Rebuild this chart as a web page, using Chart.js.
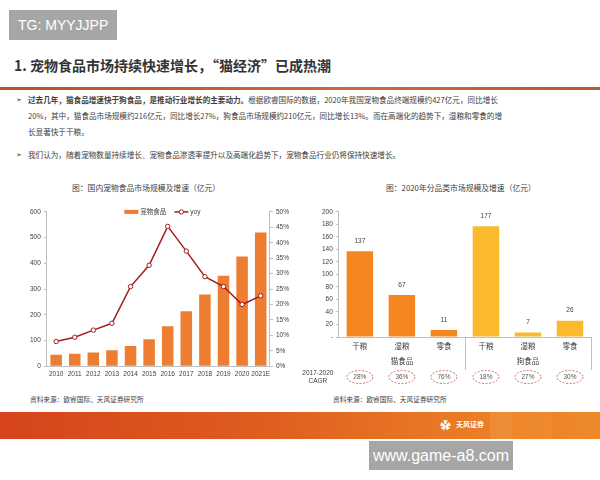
<!DOCTYPE html>
<html>
<head>
<meta charset="utf-8">
<script src="https://cdn.jsdelivr.net/npm/chart.js@4.4.0/dist/chart.umd.min.js"></script>
<style>
body{margin:0;width:600px;height:480px;background:#fff;position:relative;overflow:hidden;font-family:"Noto Sans CJK SC",sans-serif;color:#404040}
.abs{position:absolute}
#tg{left:9px;top:10px;width:108px;height:30px;background:#a6a6a6;color:#fff;font:14px "Liberation Sans",sans-serif;line-height:30px;padding-left:9px;box-sizing:border-box}
#head{left:14px;top:55px;font-size:14px;font-weight:bold;color:#333;white-space:nowrap}
#rule{left:0;top:87px;width:600px;height:3px;background:linear-gradient(90deg,#b4542a,#c86a3c 60%,#b85a30)}
.txt{font-size:7.6px;line-height:16px;color:#404040;white-space:nowrap}
.arrow{position:absolute;left:-12px;font-family:"DejaVu Sans";font-size:7px;color:#333}
.ctitle{font-size:7.8px;color:#404040;white-space:nowrap}
.src{font-size:6.7px;color:#404040;white-space:nowrap}
#foot{left:0;top:412px;width:600px;height:27px;background:linear-gradient(90deg,#d5441d,#de5a1e 40%,#e97a24 75%,#ee8a2a)}
#wm{left:369px;top:441px;width:144px;height:29px;background:#a6a6a6;color:#fff;font:16px "Liberation Sans",sans-serif;line-height:29px;text-align:center}
</style>
</head>
<body>
<div id="tg" class="abs">TG: MYYJJPP</div>
<div id="head" class="abs">1. 宠物食品市场持续快速增长，“猫经济”已成热潮</div>
<div id="rule" class="abs"></div>

<div class="abs txt" style="left:28px;top:92px"><span class="arrow">➢</span><b>过去几年，猫食品增速快于狗食品，是推动行业增长的主要动力。</b>根据欧睿国际的数据，2020年我国宠物食品终端规模约427亿元，同比增长<br>20%，其中，猫食品市场规模约216亿元，同比增长27%，狗食品市场规模约210亿元，同比增长13%。而在高端化的趋势下，湿粮和零食的增<br>长显著快于干粮。</div>
<div class="abs txt" style="left:28px;top:147px"><span class="arrow">➢</span>我们认为，随着宠物数量持续增长、宠物食品渗透率提升以及高端化趋势下，宠物食品行业仍将保持快速增长。</div>

<div class="abs ctitle" style="left:72px;top:182px">图：国内宠物食品市场规模及增速（亿元）</div>
<div class="abs ctitle" style="left:386px;top:182px">图：2020年分品类市场规模及增速（亿元）</div>

<div class="abs" style="left:18px;top:205px;width:280px;height:177px"><canvas id="leftChart"></canvas></div>
<div class="abs" style="left:300px;top:205px;width:295px;height:185px"><canvas id="rightChart"></canvas></div>

<div class="abs src" style="left:30px;top:394px">资料来源：欧睿国际、天风证券研究所</div>
<div class="abs src" style="left:333px;top:394px">资料来源：欧睿国际、天风证券研究所</div>

<div id="foot" class="abs">
  <div class="abs" style="left:490px;top:0;width:22px;height:27px;background:rgba(255,200,120,0.18)"></div>
  <div class="abs" style="left:512px;top:0;width:40px;height:27px;background:rgba(255,170,80,0.15)"></div>
  <div class="abs" style="left:440px;top:6px;width:14px;height:14px;color:#fff;font-size:11px;line-height:14px">✿</div>
  <div class="abs" style="left:456px;top:7px;color:#fff;font-size:7px;font-weight:bold">天风证券</div>
</div>
<div id="wm" class="abs">www.game-a8.com</div>

<script>
const years = ['2010','2011','2012','2013','2014','2015','2016','2017','2018','2019','2020','2021E'];
const marketSize = [45, 48, 53, 62, 79, 105, 155, 214, 279, 352, 427, 520];
const yoy = [8.0, 9.4, 11.7, 13.9, 25.8, 32.7, 45.3, 37.3, 29.0, 25.8, 20.0, 22.8];

const foodTypes = ['干粮', '湿粮', '零食', '干粮', '湿粮', '零食'];
const foodGroups = ['猫食品', '狗食品'];
const foodValues = [137, 67, 11, 177, 7, 26];
const cagr = ['28%', '36%', '76%', '18%', '27%', '30%'];

const fontFam = "'Liberation Sans','Noto Sans CJK SC',sans-serif";
const axisGray = '#bfbfbf';
const barOrange = '#ed7d31';
const lineRed = '#a31d1d';

// custom legend for left chart (bar swatch + line with marker)
const leftLegend = {
    id: 'leftLegend',
    afterDraw(chart) {
        const c = chart.ctx;
        const a = chart.chartArea;
        c.save();
        c.font = '6.5px ' + fontFam;
        c.textBaseline = 'middle';
        const t1 = '宠物食品', t2 = 'yoy';
        const w = 14 + 2 + c.measureText(t1).width + 8 + 14 + 2 + c.measureText(t2).width;
        let x = (a.left + a.right) / 2 - w / 2 + 4;
        const y = a.top;
        c.fillStyle = barOrange;
        c.fillRect(x, y - 2, 14, 4);
        x += 16;
        c.fillStyle = '#404040';
        c.fillText(t1, x, y);
        x += c.measureText(t1).width + 8;
        c.strokeStyle = lineRed;
        c.lineWidth = 1.5;
        c.beginPath(); c.moveTo(x, y); c.lineTo(x + 14, y); c.stroke();
        c.fillStyle = '#fff';
        c.lineWidth = 1;
        c.beginPath(); c.arc(x + 7, y, 2.2, 0, Math.PI * 2); c.fill(); c.stroke();
        x += 16;
        c.fillStyle = '#404040';
        c.fillText(t2, x, y);
        c.restore();
    }
};

new Chart(document.getElementById('leftChart'), {
    type: 'bar',
    data: {
        labels: years,
        datasets: [{
            type: 'line',
            label: 'yoy',
            data: yoy,
            yAxisID: 'y1',
            borderColor: lineRed,
            borderWidth: 1.5,
            pointRadius: 2.2,
            pointBackgroundColor: '#fff',
            pointBorderColor: lineRed,
            pointBorderWidth: 1,
            tension: 0
        }, {
            label: '宠物食品',
            data: marketSize,
            yAxisID: 'y',
            backgroundColor: barOrange,
            barPercentage: 0.62,
            categoryPercentage: 1
        }]
    },
    options: {
        responsive: true,
        maintainAspectRatio: false,
        animation: false,
        layout: {padding: {top: 6, right: 6, left: 9, bottom: 0}},
        plugins: {legend: {display: false}, tooltip: {enabled: false}},
        scales: {
            x: {
                grid: {display: false, drawTicks: false},
                border: {color: axisGray},
                ticks: {color: '#404040', font: {size: 6.5, family: fontFam}, maxRotation: 0, autoSkip: false, padding: 4}
            },
            y: {
                position: 'left',
                min: 0, max: 600,
                ticks: {stepSize: 100, color: '#404040', font: {size: 6.5, family: fontFam}, padding: 3},
                grid: {drawOnChartArea: false, tickLength: 3, color: axisGray},
                border: {color: axisGray}
            },
            y1: {
                position: 'right',
                min: 0, max: 50,
                ticks: {stepSize: 5, color: '#404040', font: {size: 6.5, family: fontFam}, padding: 3,
                    callback: v => v + '%'},
                grid: {drawOnChartArea: false, tickLength: 3, color: axisGray},
                border: {color: axisGray}
            }
        }
    },
    plugins: [leftLegend]
});

// value labels, group labels and CAGR row for right chart
const rightExtras = {
    id: 'rightExtras',
    afterDraw(chart) {
        const c = chart.ctx;
        const a = chart.chartArea;
        const xs = chart.scales.x;
        const meta = chart.getDatasetMeta(0);
        c.save();
        c.font = '6.5px ' + fontFam;
        c.fillStyle = '#404040';
        c.textAlign = 'center';
        c.textBaseline = 'bottom';
        meta.data.forEach((bar, i) => {
            c.fillText(String(foodValues[i]), bar.x, bar.y - 7);
        });
        // group separators
        const px = i => xs.getPixelForValue(i);
        const mid = (px(2) + px(3)) / 2;
        c.strokeStyle = axisGray;
        c.lineWidth = 1;
        [mid, a.right].forEach(x => {
            c.beginPath(); c.moveTo(Math.round(x) + 0.5, a.bottom); c.lineTo(Math.round(x) + 0.5, a.bottom + 33); c.stroke();
        });
        // group labels
        c.textBaseline = 'middle';
        c.font = '7.5px ' + fontFam;
        c.fillText(foodGroups[0], (px(0) + px(2)) / 2, a.bottom + 25);
        c.fillText(foodGroups[1], (px(3) + px(5)) / 2, a.bottom + 25);
        // CAGR row
        const cy = a.bottom + 40;
        c.font = '6.5px ' + fontFam;
        c.fillText('2017-2020', a.left - 21, cy - 4);
        c.fillText('CAGR', a.left - 21, cy + 4);
        cagr.forEach((t, i) => {
            const x = px(i);
            c.setLineDash([2, 1.5]);
            c.strokeStyle = '#c0504d';
            c.lineWidth = 0.8;
            c.beginPath(); c.ellipse(x, cy, 13, 6.5, 0, 0, Math.PI * 2); c.stroke();
            c.setLineDash([]);
            c.fillStyle = '#595959';
            c.fillText(t, x, cy);
        });
        c.restore();
    }
};

new Chart(document.getElementById('rightChart'), {
    type: 'bar',
    data: {
        labels: foodTypes,
        datasets: [{
            label: '2020',
            data: foodValues,
            backgroundColor: foodValues.map((v, i) => i < 3 ? '#f3861f' : '#fbb92e'),
            barPercentage: 0.63,
            categoryPercentage: 1
        }]
    },
    options: {
        responsive: true,
        maintainAspectRatio: false,
        animation: false,
        layout: {padding: {top: 4, right: 4, left: 19, bottom: 34}},
        plugins: {legend: {display: false}, tooltip: {enabled: false}},
        scales: {
            x: {
                grid: {display: false, drawTicks: false},
                border: {color: axisGray},
                ticks: {color: '#404040', font: {size: 7.5, family: fontFam}, padding: 5}
            },
            y: {
                min: 0, max: 200,
                ticks: {stepSize: 20, color: '#404040', font: {size: 6.5, family: fontFam}, padding: 3,
                    callback: v => v === 0 ? '-' : v},
                grid: {drawOnChartArea: false, tickLength: 3, color: axisGray},
                border: {color: axisGray}
            }
        }
    },
    plugins: [rightExtras]
});
</script>
</body>
</html>
